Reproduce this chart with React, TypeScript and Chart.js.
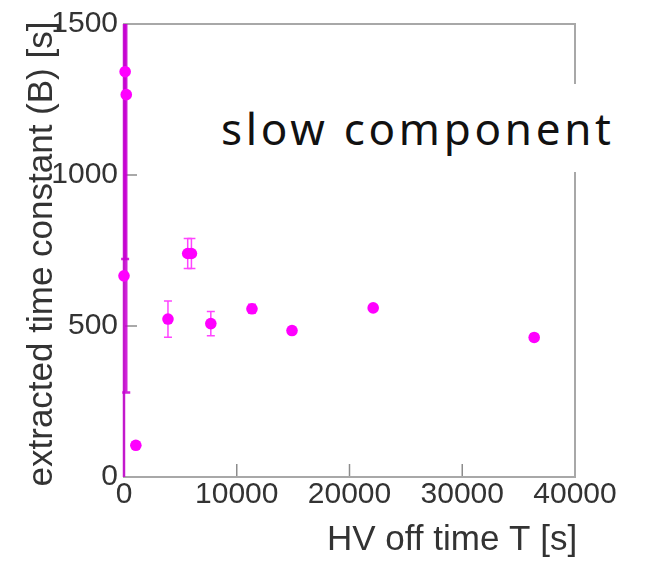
import React, { useEffect, useRef } from "react";
import { Chart, registerables } from "chart.js";

Chart.register(...registerables);

// HV off time T [s]
const hvOffTime = [0, 100, 200, 1050, 3900, 5650, 5980, 7700, 11350, 14900, 22100, 36380];
// extracted time constant (B) [s]
const timeConstant = [666, 1342, 1266, 105, 523, 740, 740, 508, 557, 485, 560, 462];
const errMinus = [900, 620, 986, 10, 60, 50, 50, 40, 15, 10, 10, 10];
const errPlus = [1100, 700, 900, 10, 60, 50, 50, 40, 15, 10, 10, 10];

const xTicks = [0, 10000, 20000, 30000, 40000];
const yTicks = [0, 500, 1000, 1500];
const xTitle = "HV off time T [s]";
const yTitle = "extracted time constant (B) [s]";
const annotation = "slow component";

const MAGENTA = "#ff00ff";

export default function App() {
  const ref = useRef<HTMLCanvasElement>(null);

  useEffect(() => {
    const canvas = ref.current;
    if (!canvas) return;

    const framePlugin = {
      id: "frameAndErrors",
      beforeDatasetsDraw(chart: any) {
        const { ctx, chartArea: a, scales } = chart;
        const xs = scales.x;
        const ys = scales.y;
        ctx.save();
        // inner tick marks
        ctx.strokeStyle = "#8c8c8c";
        ctx.lineWidth = 1.5;
        xTicks.slice(1, -1).forEach((v) => {
          const px = xs.getPixelForValue(v);
          ctx.beginPath();
          ctx.moveTo(px, a.bottom);
          ctx.lineTo(px, a.bottom - 13);
          ctx.stroke();
        });
        yTicks.slice(1, -1).forEach((v) => {
          const py = ys.getPixelForValue(v);
          ctx.beginPath();
          ctx.moveTo(a.left, py);
          ctx.lineTo(a.left + 13, py);
          ctx.stroke();
        });
        // frame
        ctx.strokeStyle = "#a8a8a8";
        ctx.lineWidth = 2;
        ctx.strokeRect(a.left, a.top, a.right - a.left, a.bottom - a.top);
        // error bars (clipped to plot area)
        ctx.beginPath();
        ctx.rect(a.left - 3, a.top, a.right - a.left + 6, a.bottom - a.top);
        ctx.clip();
        hvOffTime.forEach((x, i) => {
          const px = xs.getPixelForValue(x);
          const lo = ys.getPixelForValue(timeConstant[i] - errMinus[i]);
          const hi = ys.getPixelForValue(timeConstant[i] + errPlus[i]);
          ctx.strokeStyle = i < 3 ? "rgba(200,0,210,0.85)" : "#ff44ff";
          ctx.lineWidth = i < 3 ? 2.5 : 1.5;
          ctx.beginPath();
          ctx.moveTo(px, lo);
          ctx.lineTo(px, hi);
          ctx.moveTo(px - 4, lo);
          ctx.lineTo(px + 4, lo);
          ctx.moveTo(px - 4, hi);
          ctx.lineTo(px + 4, hi);
          ctx.stroke();
        });
        ctx.restore();
      },
      afterDraw(chart: any) {
        const { ctx } = chart;
        ctx.save();
        ctx.fillStyle = "#333333";
        ctx.font = "35px 'Liberation Sans'";
        ctx.textAlign = "center";
        ctx.textBaseline = "alphabetic";
        ctx.fillText(xTitle, 452, 550);
        ctx.translate(52, 254);
        ctx.rotate(-Math.PI / 2);
        ctx.fillText(yTitle, 0, 0);
        ctx.restore();
      },
    };

    const chart = new Chart(canvas, {
      type: "scatter",
      data: {
        datasets: [
          {
            label: "slow component",
            data: hvOffTime.map((x, i) => ({ x, y: timeConstant[i] })),
            backgroundColor: MAGENTA,
            borderColor: MAGENTA,
            borderWidth: 0,
            pointRadius: 5.8,
            clip: false as any,
          },
        ],
      },
      options: {
        animation: false,
        responsive: false,
        events: [],
        layout: { padding: { top: 22, right: 71, left: 0, bottom: 0 } },
        plugins: { legend: { display: false }, tooltip: { enabled: false } },
        scales: {
          x: {
            type: "linear",
            min: 0,
            max: 40000,
            grid: { display: false, drawTicks: false },
            border: { display: false },
            afterBuildTicks: (scale: any) => {
              scale.ticks = xTicks.map((v) => ({ value: v }));
            },
            afterFit: (scale: any) => {
              scale.height = 85;
            },
            ticks: {
              padding: 0,
              maxRotation: 0,
              autoSkip: false,
              color: "#333333",
              font: { family: "'Liberation Sans'", size: 30 },
              callback: (v: any) => String(v),
            },
          },
          y: {
            type: "linear",
            min: 0,
            max: 1500,
            grid: { display: false, drawTicks: false },
            border: { display: false },
            afterBuildTicks: (scale: any) => {
              scale.ticks = yTicks.map((v) => ({ value: v }));
            },
            afterFit: (scale: any) => {
              scale.width = 124;
            },
            ticks: {
              padding: 6,
              autoSkip: false,
              color: "#333333",
              font: { family: "'Liberation Sans'", size: 30 },
              callback: (v: any) => String(v),
            },
          },
        },
      },
      plugins: [framePlugin],
    });

    return () => chart.destroy();
  }, []);

  return (
    <div style={{ position: "absolute", left: 0, top: 0, width: 646, height: 562, background: "#ffffff" }}>
      <canvas ref={ref} width={646} height={562} style={{ position: "absolute", left: 0, top: 0 }} />
      <div
        style={{
          position: "absolute",
          left: 205,
          top: 84,
          width: 430,
          height: 88,
          background: "#ffffff",
        }}
      >
        <span
          style={{
            position: "absolute",
            left: 16,
            top: 22,
            fontFamily: "'Noto Sans'",
            fontSize: 44,
            lineHeight: "44px",
            letterSpacing: 3.7,
            color: "#111111",
            whiteSpace: "nowrap",
          }}
        >
          {annotation}
        </span>
      </div>
    </div>
  );
}
